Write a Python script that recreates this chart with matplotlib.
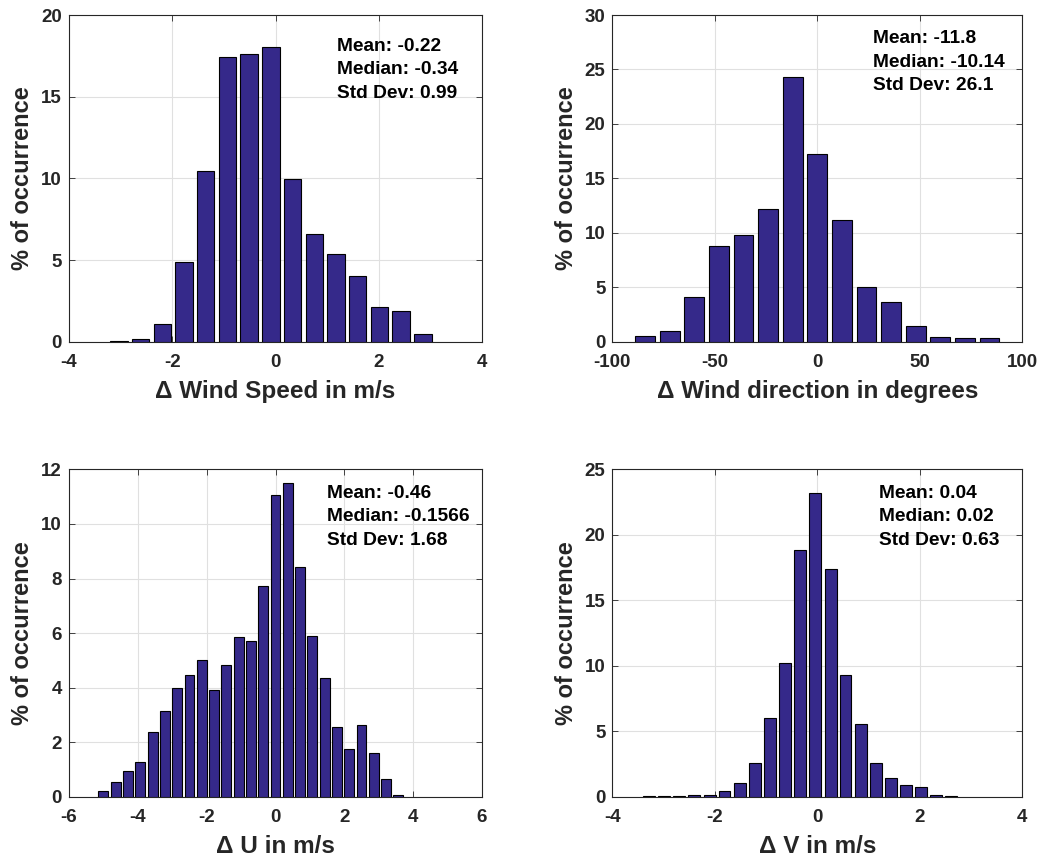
import matplotlib
matplotlib.use("Agg")
import matplotlib.pyplot as plt

plt.rcParams['font.family'] = ['Liberation Sans', 'DejaVu Sans']
plt.rcParams['font.weight'] = 'bold'

# Panel 1: wind speed difference
ws_centers = [-3.03, -2.61, -2.19, -1.77, -1.35, -0.93, -0.51, -0.09, 0.33, 0.75, 1.17, 1.59, 2.01, 2.43, 2.86]
ws_pct = [0.05, 0.14, 1.1, 4.86, 10.43, 17.4, 17.6, 18.06, 9.96, 6.6, 5.39, 4.0, 2.14, 1.9, 0.47]

# Panel 2: wind direction difference
wd_centers = [-84, -72, -60, -48, -36, -24, -12, 0, 12, 24, 36, 48, 60, 72, 84]
wd_pct = [0.49, 1.01, 4.1, 8.78, 9.83, 12.15, 24.27, 17.23, 11.2, 5.02, 3.61, 1.44, 0.4, 0.31, 0.31]

# Panel 3: U difference
u_centers = [-5.00, -4.64, -4.29, -3.93, -3.57, -3.21, -2.86, -2.50, -2.14, -1.79, -1.43, -1.07, -0.71,
             -0.36, 0.00, 0.36, 0.71, 1.07, 1.43, 1.79, 2.14, 2.50, 2.86, 3.21, 3.57]
u_pct = [0.21, 0.53, 0.93, 1.28, 2.36, 3.15, 4.0, 4.45, 5.01, 3.93, 4.83, 5.84, 5.71,
         7.72, 11.06, 11.49, 8.42, 5.9, 4.37, 2.54, 1.74, 2.64, 1.6, 0.65, 0.06]

# Panel 4: V difference
v_centers = [-3.28, -2.99, -2.69, -2.40, -2.10, -1.81, -1.51, -1.22, -0.92, -0.63, -0.33,
             -0.04, 0.26, 0.55, 0.85, 1.14, 1.44, 1.73, 2.03, 2.32, 2.61]
v_pct = [0.05, 0.05, 0.05, 0.13, 0.13, 0.43, 1.02, 2.55, 6.0, 10.21, 18.84,
         23.19, 17.39, 9.27, 5.58, 2.55, 1.45, 0.87, 0.71, 0.13, 0.05]

panels = [
    dict(c=ws_centers, v=ws_pct, xlim=(-4, 4), xt=[-4, -2, 0, 2, 4], ylim=(0, 20), yt=[0, 5, 10, 15, 20],
         xl='\u0394 Wind Speed in m/s', txt='Mean: -0.22\nMedian: -0.34\nStd Dev: 0.99', tpos=(0.648, 0.93)),
    dict(c=wd_centers, v=wd_pct, xlim=(-100, 100), xt=[-100, -50, 0, 50, 100], ylim=(0, 30), yt=[0, 5, 10, 15, 20, 25, 30],
         xl='\u0394 Wind direction in degrees', txt='Mean: -11.8\nMedian: -10.14\nStd Dev: 26.1', tpos=(0.637, 0.953)),
    dict(c=u_centers, v=u_pct, xlim=(-6, 6), xt=[-6, -4, -2, 0, 2, 4, 6], ylim=(0, 12), yt=[0, 2, 4, 6, 8, 10, 12],
         xl='\u0394 U in m/s', txt='Mean: -0.46\nMedian: -0.1566\nStd Dev: 1.68', tpos=(0.624, 0.953)),
    dict(c=v_centers, v=v_pct, xlim=(-4, 4), xt=[-4, -2, 0, 2, 4], ylim=(0, 25), yt=[0, 5, 10, 15, 20, 25],
         xl='\u0394 V in m/s', txt='Mean: 0.04\nMedian: 0.02\nStd Dev: 0.63', tpos=(0.651, 0.953)),
]

rects = [
    [69 / 1042, (861 - 341.7) / 861, 413 / 1042, 326.7 / 861],
    [612.3 / 1042, (861 - 341.7) / 861, 410 / 1042, 326.7 / 861],
    [69 / 1042, (861 - 796.7) / 861, 413 / 1042, 327.3 / 861],
    [612.3 / 1042, (861 - 796.7) / 861, 410 / 1042, 327.3 / 861],
]

fig = plt.figure(figsize=(10.42, 8.61), dpi=100)
dark = '#262626'
bar_color = '#35298A'

for p, r in zip(panels, rects):
    ax = fig.add_axes(r)
    step = p['c'][1] - p['c'][0]
    ax.bar(p['c'], p['v'], width=0.8 * step, color=bar_color, edgecolor='black', linewidth=0.8, zorder=3)
    ax.set_xlim(*p['xlim'])
    ax.set_ylim(*p['ylim'])
    ax.set_xticks(p['xt'])
    ax.set_yticks(p['yt'])
    ax.set_xticklabels([str(t) for t in p['xt']], fontsize=13.5, fontweight='bold', color=dark)
    ax.set_yticklabels([str(t) for t in p['yt']], fontsize=13.5, fontweight='bold', color=dark)
    ax.grid(True, color='#e0e0e0', linewidth=0.8, zorder=0)
    ax.set_axisbelow(True)
    ax.tick_params(axis='x', pad=9)
    ax.tick_params(axis='y', pad=5)
    ax.tick_params(direction='in', length=4, width=0.6, color=dark, top=True, right=True,
                   labeltop=False, labelright=False)
    for s in ax.spines.values():
        s.set_color(dark)
        s.set_linewidth(0.8)
    ax.set_xlabel(p['xl'], fontsize=17.5, fontweight='bold', color=dark, labelpad=6)
    ax.set_ylabel('% of occurrence', fontsize=17, fontweight='bold', color=dark, labelpad=5)
    ax.text(p['tpos'][0], p['tpos'][1], p['txt'], transform=ax.transAxes, fontsize=13.8,
            fontweight='bold', color='black', va='top', ha='left', linespacing=1.5, zorder=5)

fig.savefig('out.png', dpi=100)
